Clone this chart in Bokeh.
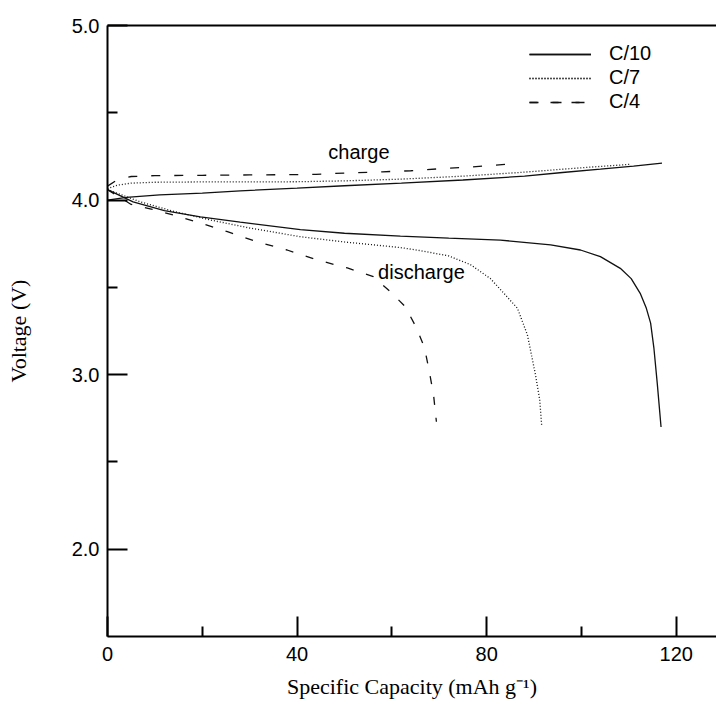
from bokeh.plotting import figure
from bokeh.models import FixedTicker, LinearAxis, Legend, LegendItem, Range1d
from bokeh.core.properties import value
from bokeh.embed import file_html
from bokeh.resources import INLINE

# ---- data ----
c10_chg_x = [0, 4, 11, 20, 28, 40, 50, 62, 75, 88, 96, 104, 111, 117]
c10_chg_v = [4.00, 4.015, 4.03, 4.04, 4.053, 4.068, 4.082, 4.097, 4.115, 4.137, 4.158, 4.177, 4.195, 4.212]

c7_chg_x = [0, 2, 5, 10, 20, 30, 40, 50, 62, 75, 88, 100, 110.4]
c7_chg_v = [4.065, 4.085, 4.097, 4.102, 4.104, 4.104, 4.105, 4.11, 4.12, 4.137, 4.16, 4.185, 4.205]

c4_chg_x = [0, 2, 5, 10, 20, 30, 44, 50, 58, 64, 71, 77, 84]
c4_chg_v = [4.08, 4.115, 4.135, 4.14, 4.142, 4.144, 4.147, 4.155, 4.162, 4.168, 4.181, 4.19, 4.205]

c10_dis_x = [0, 5.4, 12, 19.6, 28, 40.7, 50, 61.8, 72, 82.9, 93.5, 99.8, 104, 108.2, 110.5,
             112.4, 113.7, 114.6, 115.3, 116, 116.8]
c10_dis_v = [4.06, 3.99, 3.94, 3.904, 3.874, 3.831, 3.81, 3.794, 3.782, 3.771, 3.743, 3.714, 3.676,
             3.609, 3.55, 3.466, 3.38, 3.295, 3.15, 2.95, 2.70]

c7_dis_x = [0, 6.9, 14, 21.7, 30, 40.7, 50, 61.8, 66.1, 72, 76.6, 80.8, 83.5, 86.5, 88.6, 90.3, 91.2, 91.6]
c7_dis_v = [4.06, 3.99, 3.935, 3.886, 3.84, 3.79, 3.76, 3.728, 3.71, 3.68, 3.63, 3.55, 3.47, 3.38,
            3.228, 3.0, 2.856, 2.713]

c4_dis_x = [0, 5, 9, 13.9, 19.6, 25.3, 31.6, 37.9, 44.3, 50.6, 56.1, 59.7, 62.8, 65.2, 66.9, 67.9, 68.8, 69.4]
c4_dis_v = [4.06, 3.975, 3.95, 3.914, 3.868, 3.819, 3.761, 3.714, 3.657, 3.611, 3.561, 3.475, 3.39,
            3.268, 3.153, 3.018, 2.884, 2.73]

series_labels = ["C/10", "C/7", "C/4"]
x_ticks = [0, 40, 80, 120]
x_minor = [20, 60, 100]
y_ticks = [2.0, 3.0, 4.0, 5.0]
y_tick_labels = ["2.0", "3.0", "4.0", "5.0"]
y_minor = [2.5, 3.5, 4.5]

p = figure(width=716, height=708, x_range=Range1d(0, 128.5), y_range=Range1d(1.5, 5.0),
           output_backend="svg", toolbar_location=None,
           min_border_left=107, min_border_right=0, min_border_top=25, min_border_bottom=72)
p.outline_line_color = None
p.grid.visible = False
p.background_fill_color = "white"
p.border_fill_color = "white"

p.xaxis.ticker = FixedTicker(ticks=x_ticks, minor_ticks=x_minor)
p.yaxis.ticker = FixedTicker(ticks=y_ticks, minor_ticks=y_minor)
p.yaxis.major_label_overrides = {t: l for t, l in zip(y_ticks, y_tick_labels)}

for ax in (p.xaxis[0], p.yaxis[0]):
    ax.axis_line_width = 2
    ax.axis_line_color = "black"
    ax.major_tick_line_width = 2
    ax.minor_tick_line_width = 2
    ax.major_tick_line_color = "black"
    ax.minor_tick_line_color = "black"
    ax.major_tick_in = 20
    ax.major_tick_out = 0
    ax.minor_tick_in = 10
    ax.minor_tick_out = 0
    ax.major_label_text_font = "Liberation Sans"
    ax.major_label_text_font_size = "20px"
    ax.major_label_text_color = "black"
    ax.axis_label_text_font = "Liberation Serif"
    ax.axis_label_text_font_size = "22px"
    ax.axis_label_text_font_style = "normal"
    ax.axis_label_text_color = "black"

p.xaxis.axis_label = "Specific Capacity (mAh g\u207b\u00b9)"
p.yaxis.axis_label = "Voltage (V)"
p.xaxis.major_label_standoff = 10
p.yaxis.major_label_standoff = 8
p.xaxis.axis_label_standoff = 10
p.yaxis.axis_label_standoff = 38

top = LinearAxis(ticker=FixedTicker(ticks=[]), major_label_text_font_size="0px",
                 axis_line_width=2, axis_line_color="black",
                 major_tick_in=0, major_tick_out=0, minor_tick_in=0, minor_tick_out=0)
p.add_layout(top, "above")

col = "#111111"
r10c = p.line(c10_chg_x, c10_chg_v, line_color=col, line_width=1.3)
r10d = p.line(c10_dis_x, c10_dis_v, line_color=col, line_width=1.3)
r7c = p.line(c7_chg_x, c7_chg_v, line_color=col, line_width=1.3, line_dash="1 2")
r7d = p.line(c7_dis_x, c7_dis_v, line_color=col, line_width=1.3, line_dash="1 2")
r4c = p.line(c4_chg_x, c4_chg_v, line_color=col, line_width=1.3, line_dash="9 14")
r4d = p.line(c4_dis_x, c4_dis_v, line_color=col, line_width=1.3, line_dash="8 13")

p.text(x=[46.6], y=[4.275], text=["charge"], text_font=value("Liberation Sans"),
       text_font_size="20px", text_baseline="middle", text_align="left", text_color="black")
p.text(x=[57.1], y=[3.588], text=["discharge"], text_font=value("Liberation Sans"),
       text_font_size="20px", text_baseline="middle", text_align="left", text_color="black")

legend = Legend(items=[LegendItem(label=series_labels[0], renderers=[r10c, r10d]),
                       LegendItem(label=series_labels[1], renderers=[r7c, r7d]),
                       LegendItem(label=series_labels[2], renderers=[r4c, r4d])],
                location=(422, 523), glyph_width=62, glyph_height=22, label_height=22,
                label_standoff=18, spacing=1, padding=0, margin=0,
                border_line_color=None, background_fill_alpha=0,
                label_text_font="Liberation Sans", label_text_font_size="20px",
                label_text_color="black")
p.add_layout(legend)

open("out.html", "w").write(file_html(p, INLINE))
